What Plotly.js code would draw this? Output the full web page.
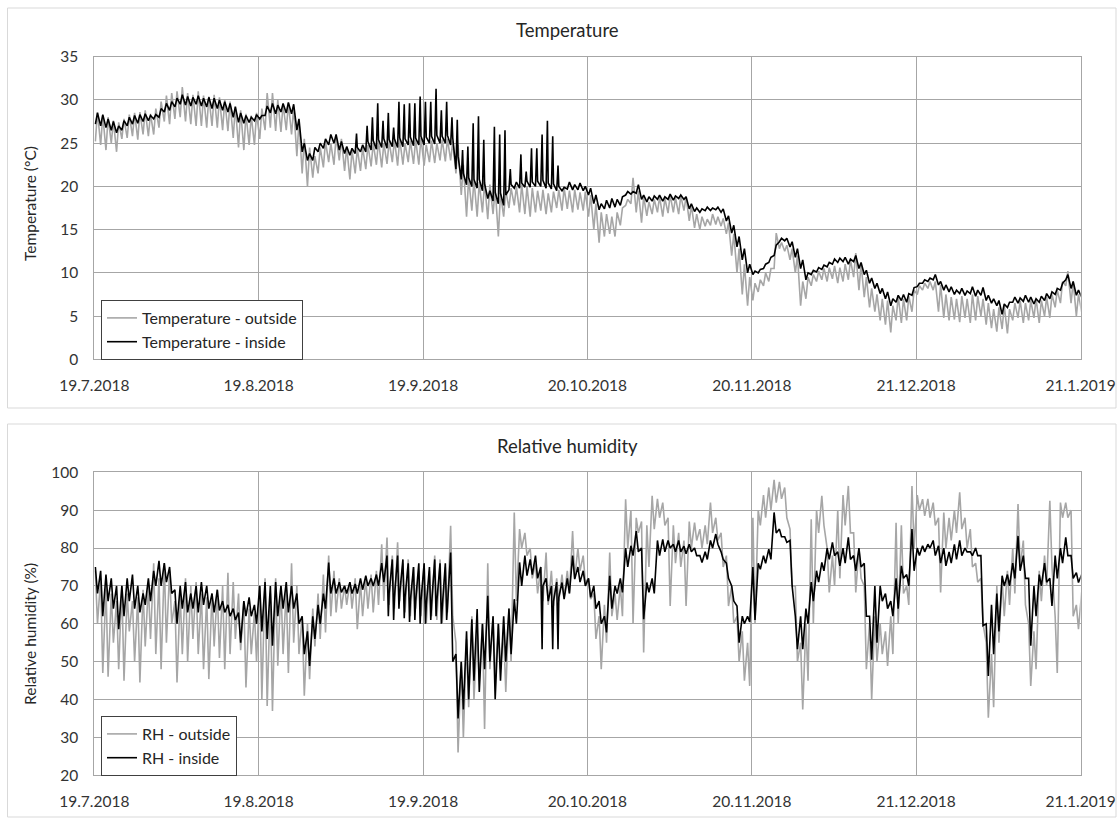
<!DOCTYPE html>
<html>
<head>
<meta charset="utf-8">
<script src="https://cdn.plot.ly/plotly-3.0.1.min.js"></script>
<style>html,body{margin:0;padding:0;background:#fff;}#chart{width:1117px;height:818px;}</style>
</head>
<body>
<div id="chart"></div>
<script>
// ---------- DATA (one value per day, day 0 = 19.7.2018) ----------
const startDate = '2018-07-19';
const tickDates = ['2018-07-19','2018-08-19','2018-09-19','2018-10-20','2018-11-20','2018-12-21','2019-01-21'];
const tickLabels = ['19.7.2018','19.8.2018','19.9.2018','20.10.2018','20.11.2018','21.12.2018','21.1.2019'];

// Temperature outside: daily maximum / minimum (°C)
const tOutMax = [
 28.6,28.2,28.0,27.6,27.4,27.8,28.3,28.5,28.6,28.8,28.4,
 29.0,29.8,30.5,30.8,31.0,
 31.5,30.8,30.6,31.0,30.5,30.4,30.6,30.3,30.0,29.8,
 29.3,28.8,28.4,28.2,28.5,
 29.0,30.8,30.8,30.0,29.5,29.6,29.2,
 27.5,25.5,24.5,23.5,24.5,
 25.2,25.0,25.8,25.5,24.6,24.2,24.4,24.5,
 24.8,25.0,25.3,25.0,25.2,25.4,25.5,25.0,25.3,25.4,25.6,24.8,25.3,25.0,25.4,25.5,25.2,
 24.8,22.5,21.0,20.8,20.5,
 20.5,20.2,19.8,19.2,19.5,19.8,20.0,20.2,20.0,19.8,19.5,
 19.6,19.2,19.4,19.6,19.8,19.5,19.6,19.3,19.4,
 19.0,18.0,17.0,16.8,16.5,17.0,17.5,
 18.5,21.0,19.5,
 18.8,18.2,18.5,18.8,18.6,19.0,18.7,18.9,18.8,
 17.8,16.8,16.5,16.2,16.8,16.5,16.3,
 15.8,14.5,12.8,11.0,9.5,
 8.8,9.2,10.0,10.5,14.6,
 13.5,13.2,12.8,12.0,
 9.0,9.5,9.8,10.2,10.5,10.6,10.8,10.6,11.0,11.5,12.3,11.0,9.5,8.2,7.5,7.0,6.8,6.2,
 7.3,7.0,7.3,8.0,8.5,8.8,9.0,9.0,8.6,7.5,
 7.2,7.0,7.3,7.0,7.5,7.3,7.0,6.5,5.8,6.0,
 6.2,5.8,6.5,6.8,6.5,6.8,7.0,6.8,7.2,7.5,
 8.0,9.0,10.2,9.0,7.5,6.5];
const tOutMin = [
 25.2,24.8,24.2,25.0,24.0,25.5,25.6,25.8,25.4,26.0,25.8,
 26.0,26.8,27.5,27.2,27.8,
 28.0,27.5,27.2,27.0,27.0,26.8,27.0,26.8,26.5,26.4,
 25.6,24.5,24.2,24.8,24.8,
 25.5,26.5,26.8,26.4,26.3,26.5,26.0,
 23.5,21.5,20.0,21.0,21.5,
 22.2,22.8,22.5,23.0,21.8,20.8,21.5,21.8,
 22.0,22.3,22.5,22.2,22.6,22.8,22.4,22.5,22.8,22.6,22.5,22.4,22.8,22.7,23.0,22.9,23.0,
 21.5,19.0,16.5,17.2,16.5,
 17.0,16.2,16.8,14.2,16.5,17.5,17.8,17.0,16.8,16.5,17.0,
 17.2,16.8,17.0,17.5,17.2,17.4,17.0,17.3,17.2,
 16.5,15.0,13.5,14.2,14.5,14.2,15.5,
 17.8,18.0,17.0,
 15.8,16.6,16.8,17.0,16.5,16.9,17.0,16.8,17.2,
 16.0,15.2,15.0,15.4,15.5,15.6,15.4,
 14.5,12.0,10.0,7.5,6.2,
 6.8,7.8,8.5,9.0,10.5,
 12.8,12.5,11.5,10.0,
 6.2,7.0,8.5,9.0,9.2,9.0,9.3,8.8,9.0,9.2,9.5,8.0,7.2,6.0,5.5,4.5,4.0,3.1,
 4.5,4.2,4.5,5.5,7.5,8.0,8.2,8.0,5.5,4.8,
 4.5,4.6,4.3,4.8,4.2,4.5,5.0,4.0,3.6,3.2,
 3.5,3.0,4.5,4.8,4.2,4.5,4.8,4.2,5.0,4.8,
 6.0,6.5,8.5,6.5,5.0,5.5];

// Temperature inside: daily maximum / minimum (°C)
const tInMax = [
 28.5,28.3,27.8,27.5,27.0,27.6,28.0,28.2,28.3,28.4,28.2,
 28.3,29.0,29.6,29.8,30.2,30.6,30.4,30.3,30.5,30.2,
 30.3,30.2,30.0,29.8,29.6,29.2,28.5,28.2,28.0,28.3,
 28.2,29.3,29.6,29.4,29.6,29.7,29.5,27.8,25.0,23.8,
 24.5,25.0,25.5,26.0,26.0,25.2,24.6,24.4,24.5,24.8,
 25.2,25.3,25.4,25.5,25.4,25.5,25.6,25.5,25.7,25.6,25.8,25.7,25.8,25.9,25.8,25.9,25.6,
 23.5,21.5,21.0,20.8,20.8,20.3,
 19.5,19.3,19.2,19.0,20.2,20.5,20.4,20.6,20.5,20.6,
 20.7,20.4,20.3,20.0,19.9,20.5,20.2,20.4,20.0,
 19.8,19.0,18.0,18.4,18.6,18.5,18.8,
 19.4,19.4,20.2,19.0,
 18.8,18.9,19.0,18.8,19.1,18.9,19.0,18.8,
 18.0,17.5,17.4,17.6,17.5,17.6,17.4,
 16.6,15.5,14.2,12.8,11.0,10.2,
 10.4,11.0,11.8,13.2,14.0,14.0,13.6,12.8,11.5,10.0,
 10.3,10.6,10.9,11.2,11.6,11.7,11.8,11.6,12.0,11.2,10.3,9.4,8.8,8.2,7.8,7.0,
 7.4,7.5,7.6,8.3,8.8,9.2,9.4,9.8,9.0,8.6,
 8.4,8.0,8.2,7.9,8.4,8.0,8.3,7.4,7.0,6.8,
 6.4,6.6,7.2,7.1,7.4,7.2,7.0,7.3,7.6,7.8,
 8.2,8.8,9.8,9.0,8.0,7.6];
const tInMin = [
 27.2,27.0,26.8,26.5,26.2,26.5,27.0,27.2,27.3,27.5,27.6,
 27.8,28.0,28.6,28.8,29.2,29.5,29.4,29.3,29.5,29.3,
 29.2,29.0,29.0,28.8,28.6,28.0,27.4,27.3,27.4,27.6,
 27.8,28.2,28.5,28.4,28.6,28.5,28.4,26.5,24.0,23.0,
 23.0,24.0,24.4,24.8,25.0,24.2,23.8,23.6,23.8,24.0,
 24.0,24.2,24.3,24.5,24.4,24.6,24.5,24.6,24.8,24.7,24.8,24.8,25.0,24.9,25.0,25.0,24.8,
 22.0,20.8,20.2,20.0,19.8,19.5,
 18.6,18.3,18.0,17.8,19.6,19.8,19.8,19.9,19.9,20.0,
 20.0,19.8,19.7,19.5,19.5,19.7,19.6,19.6,19.5,
 19.0,18.0,17.3,17.4,17.5,17.6,17.8,
 19.0,19.1,19.2,18.5,
 18.2,18.3,18.5,18.3,18.5,18.4,18.6,18.5,
 17.4,17.1,17.0,17.2,17.2,17.3,17.0,
 16.0,14.6,13.0,11.5,10.0,9.8,
 10.0,10.5,11.2,12.0,13.6,13.7,13.0,11.8,10.5,9.2,
 9.8,10.1,10.4,10.7,11.0,11.2,11.3,11.0,11.3,10.5,9.8,8.8,8.2,7.6,7.0,6.2,
 6.6,6.8,6.6,7.4,8.4,8.8,9.0,9.2,8.6,8.0,
 7.8,7.5,7.6,7.4,7.6,7.3,7.4,6.8,6.5,6.2,
 5.2,6.0,6.6,6.5,6.7,6.6,6.4,6.6,6.8,7.0,
 7.5,8.0,9.2,8.2,7.4,7.2];
// short midday temperature peaks inside (day, °C)
const tInPeakDay = [49,51,52,53,54,55,56,57,58,59,60,61,62,63,64,65,66,67,68,69,70,71,72,73,75,76,77,78,80,81,82,83,84,85,86,87];
const tInPeakVal = [26.1,27.0,28.0,29.6,27.6,28.5,26.8,29.8,29.5,29.6,29.6,30.4,29.8,29.8,31.3,28.8,29.8,28.0,27.7,24.2,24.6,27.3,28.1,25.4,26.9,26.0,26.5,22.0,23.7,21.7,24.4,24.4,26.0,27.6,25.8,22.4];

// Relative humidity outside: daily maximum / minimum (%)
const rhOutMax = [
 74,72,70,68,66,70,68,66,67,69,
 70,76,72,76,74,66,68,72,70,71,
 68,67,68,69,70,73.5,71,68,66,64,
 63,70,72,68,72,70,69,76,70,62,
 60,64,68,73,78,74,72,70,71,72,
 71,72,73,74,81,82.8,78,81.5,76,77,
 75,74,76,74,78,77,75,85.9,55,50,
 56,62,58,60,76,62,60,58,64,89.4,
 85,84,80,76,75,78.8,74,72,73,74,
 84.5,80,78,72,68,62,65,78.8,68,70,
 92.9,90,88,87,86,93.8,93,92,88,86,
 84,82,87,86.7,85,86,92,88,84,78,
 70,62,58,55,88,90,94,96,98,97.5,
 96,85,70,55,60,87.6,90,93.8,80,78,
 90,94,96.4,84,80,70,60,62,60,58,
 62,86.7,86,70,96.4,94,92.9,93,92,88,
 89.4,88,90,94.7,88,85,76,72,55,52,
 70,72,74,80,91.6,82,60,58,74,78,
 92.5,62,92,92,90,65,68.3];
const rhOutMin = [
 60,47,46,55,48,45,58,50,44.5,54,
 56,52,48,55,60,44.5,52,50,56,52,
 48,45.4,54,51,48,52,56,53,43.2,52,
 50,40,38.3,37,48.9,52,47,55,52,41,
 45.4,54,56,57.7,62,63,64,65,64,58.6,
 62,64,63,65,66,65,64,66,63,62,
 64,62,60,62,61,60,63,62,26,30,
 38,40,45,32.2,48,45,48,42,50,66,
 80,78,72,68,66,65,64.7,66,67,68,
 72,74,71,66.5,56,48,55,62,61,62,
 80,60,84,52.4,75,85,88,86,64.7,76,
 75,64.7,80,82,80,81,84,82,75,64.7,
 60,50,45,43.6,60,86,88,90,92,93,
 88,70,50,37.4,45,60,84,86,68.3,70,
 72,86,84,68.3,72,48,40.1,50,52,48.9,
 52,60,68,65,80,90,88.5,88,86,68.3,
 80,82,84,85,80,75,71,60,35.2,38,
 55,62,65,68,75,65,43.6,48,66,70,
 75,47,88,88,62,58.6,62];

// Relative humidity inside: daily maximum / minimum (%)
const rhInMax = [
 75,74,73,72,70,70,72,73,70,68,
 72,74,76.6,76,75,69,70,71,68,70,
 71,70,68,69,66,65,64,63,66,67,
 65,70,71,70,71,70,71,70,68,62,
 58,62,65,68,76.2,72,71,70,71,70.5,
 72,72.7,72,73,76,78,77,78,77,76,
 75,76,76,75,77,76,76,78.8,52,50,
 58,61.2,63.9,60,67.4,62,60,62,64,66.5,
 76.2,78,77,78,75,72,70,71,70.9,72,
 78,75,74,72,70,66,62,72.7,70,72,
 80,80.6,84.5,80,70.9,72,82,82.3,82,81,
 82,80.5,81,80,78,79,82,83.7,79,76,
 70,64.7,62,62,75,76,78,79.7,89.4,85,
 83,82,62,62,64,71,74,76.2,80,81.5,
 79,80,82.8,78,80,76,62,70,70,68,
 66,72,75.3,73,85,80,80.6,81,82,80.6,
 80,79,81,82,80,79,80,78,60,65,
 68,72.7,73,76,83.2,78,72,70,73,76,
 72,78,80,82.8,78,73.5,73];
const rhInMin = [
 68,62,66,64,58.6,62,66,64,63,65,
 66,70,70,71,68,60,64,63,64,63,
 65,64,63,63.5,63,62,61,55,62,62,
 60,58,56,54.2,62,64,63,64,60,52,
 48.9,56,60,64,68,68,68.3,68,68,68,
 69,70,70,70,71,68,67,68,67,66,
 66,66,65,65,66,64,65,50,35,37.4,
 40,45,42,48,50,40.1,45,50,52,60,
 70,72.7,73,72,70,66,66,67,66.5,68,
 71.8,71,70,67,64,60,57.7,64,68,68.3,
 75,78,79,61.2,68.3,68,78,79,80,79,
 79,78.5,79,78,76.2,77,80,81,77,72,
 66,55,60,60.5,61,74.4,76,77,84,83,
 81.5,70,53.3,53.3,60,66,71,74,77,78,
 75.3,76,77,74,75,62,50.5,55,66,64,
 62,64,72,70,74,78,79,80,78,76,
 75.3,76,77,78,79,78,78,59.5,46.2,52,
 58,70,70,72,74,72,54.2,62,70,71,
 64.7,72,76,78,72,70.9,71];
// short humidity dips inside (day, %)
const rhInDipDay = [55,56,57,58,59,60,61,62,63,64,65,66,84,86,87];
const rhInDipVal = [62,61,64,61.5,60.5,61,60,60,61,62,60,61,53.3,53.3,53.3];

// ---------- BUILD ----------
const DAY0 = Date.parse(startDate + 'T00:00:00Z');
function toDate(d) {
  return new Date(DAY0 + d * 86400000).toISOString().slice(0, 19).replace('T', ' ');
}
// first value of the day at 05:00, optional short event, second value at ~14:00
function buildSeries(first, second, evDays, evVals) {
  const ev = {};
  (evDays || []).forEach((d, k) => { ev[d] = evVals[k]; });
  const x = [], y = [];
  for (let i = 0; i < first.length; i++) {
    x.push(toDate(i + 0.2)); y.push(first[i]);
    if (ev[i] !== undefined) { x.push(toDate(i + 0.45)); y.push(ev[i]); }
    x.push(toDate(i + 0.6)); y.push(second[i]);
  }
  return { x, y };
}

const sTOut = buildSeries(tOutMin, tOutMax);
const sTIn = buildSeries(tInMin, tInMax, tInPeakDay, tInPeakVal);
const sRhOut = buildSeries(rhOutMax, rhOutMin);
const sRhIn = buildSeries(rhInMax, rhInMin, rhInDipDay, rhInDipVal);

const FONT = 'Lato, "Open Sans", "DejaVu Sans", sans-serif';
const GRAY = '#a6a6a6';
const TXT = '#333333';

const traces = [
  { x: sTOut.x, y: sTOut.y, type: 'scatter', mode: 'lines', name: 'Temperature - outside',
    line: { color: GRAY, width: 1.6 }, xaxis: 'x', yaxis: 'y', legend: 'legend' },
  { x: sTIn.x, y: sTIn.y, type: 'scatter', mode: 'lines', name: 'Temperature - inside',
    line: { color: '#000000', width: 1.6 }, xaxis: 'x', yaxis: 'y', legend: 'legend' },
  { x: sRhOut.x, y: sRhOut.y, type: 'scatter', mode: 'lines', name: 'RH - outside',
    line: { color: GRAY, width: 1.6 }, xaxis: 'x2', yaxis: 'y2', legend: 'legend2' },
  { x: sRhIn.x, y: sRhIn.y, type: 'scatter', mode: 'lines', name: 'RH - inside',
    line: { color: '#000000', width: 1.6 }, xaxis: 'x2', yaxis: 'y2', legend: 'legend2' }
];

function xAxis(anchor) {
  return {
    type: 'date', anchor: anchor, domain: [94.3 / 1117, 1080.6 / 1117],
    range: [tickDates[0], tickDates[tickDates.length - 1]],
    tickmode: 'array', tickvals: tickDates, ticktext: tickLabels,
    showgrid: true, gridcolor: GRAY, gridwidth: 1,
    showline: true, mirror: true, linecolor: GRAY, linewidth: 1,
    zeroline: false, ticks: '', ticklabelstandoff: 12,
    tickfont: { family: FONT, size: 15.5, color: TXT }, fixedrange: true
  };
}
function yAxis(anchor, dom, range, dtick) {
  return {
    anchor: anchor, domain: dom, range: range, dtick: dtick, tick0: range[0],
    showgrid: true, gridcolor: GRAY, gridwidth: 1,
    showline: true, mirror: true, linecolor: GRAY, linewidth: 1,
    zeroline: false, ticks: '', ticklabelstandoff: 12,
    tickfont: { family: FONT, size: 15.5, color: TXT }, fixedrange: true
  };
}

const H = 818, W = 1117;
const layout = {
  width: W, height: H,
  margin: { l: 0, r: 0, t: 0, b: 0 },
  paper_bgcolor: '#ffffff', plot_bgcolor: '#ffffff',
  font: { family: FONT, color: TXT },
  xaxis: xAxis('y'),
  yaxis: yAxis('x', [1 - 359.3 / H, 1 - 56.7 / H], [0, 35], 5),
  xaxis2: xAxis('y2'),
  yaxis2: yAxis('x2', [1 - 775.3 / H, 1 - 472.3 / H], [20, 100], 10),
  legend: {
    x: 101 / W, y: 1 - 300 / H, xanchor: 'left', yanchor: 'top',
    bgcolor: '#ffffff', bordercolor: '#404040', borderwidth: 1,
    font: { family: FONT, size: 16, color: '#262626' }, tracegroupgap: 0
  },
  legend2: {
    x: 101 / W, y: 1 - 716 / H, xanchor: 'left', yanchor: 'top',
    bgcolor: '#ffffff', bordercolor: '#404040', borderwidth: 1,
    font: { family: FONT, size: 16, color: '#262626' }, tracegroupgap: 0
  },
  showlegend: true,
  shapes: [
    { type: 'rect', xref: 'paper', yref: 'paper', x0: 7.5 / W, x1: 1116 / W, y0: 1 - 408 / H, y1: 1 - 8 / H,
      line: { color: '#d9d9d9', width: 1 }, fillcolor: 'rgba(0,0,0,0)', layer: 'below' },
    { type: 'rect', xref: 'paper', yref: 'paper', x0: 7.5 / W, x1: 1116 / W, y0: 1 - 817 / H, y1: 1 - 424 / H,
      line: { color: '#d9d9d9', width: 1 }, fillcolor: 'rgba(0,0,0,0)', layer: 'below' }
  ],
  annotations: [
    { text: 'Temperature', xref: 'paper', yref: 'paper', x: 567 / W, y: 1 - 30 / H,
      xanchor: 'center', yanchor: 'middle', showarrow: false,
      font: { family: FONT, size: 18.5, color: '#262626' } },
    { text: 'Relative humidity', xref: 'paper', yref: 'paper', x: 567 / W, y: 1 - 446 / H,
      xanchor: 'center', yanchor: 'middle', showarrow: false,
      font: { family: FONT, size: 18.5, color: '#262626' } },
    { text: 'Temperature (°C)', xref: 'paper', yref: 'paper', x: 30 / W, y: 1 - 204 / H,
      xanchor: 'center', yanchor: 'middle', showarrow: false, textangle: -90,
      font: { family: FONT, size: 15.5, color: '#262626' } },
    { text: 'Relative humidity (%)', xref: 'paper', yref: 'paper', x: 30 / W, y: 1 - 634 / H,
      xanchor: 'center', yanchor: 'middle', showarrow: false, textangle: -90,
      font: { family: FONT, size: 15.5, color: '#262626' } }
  ]
};

Plotly.newPlot('chart', traces, layout, { staticPlot: true, displayModeBar: false });
</script>
</body>
</html>
